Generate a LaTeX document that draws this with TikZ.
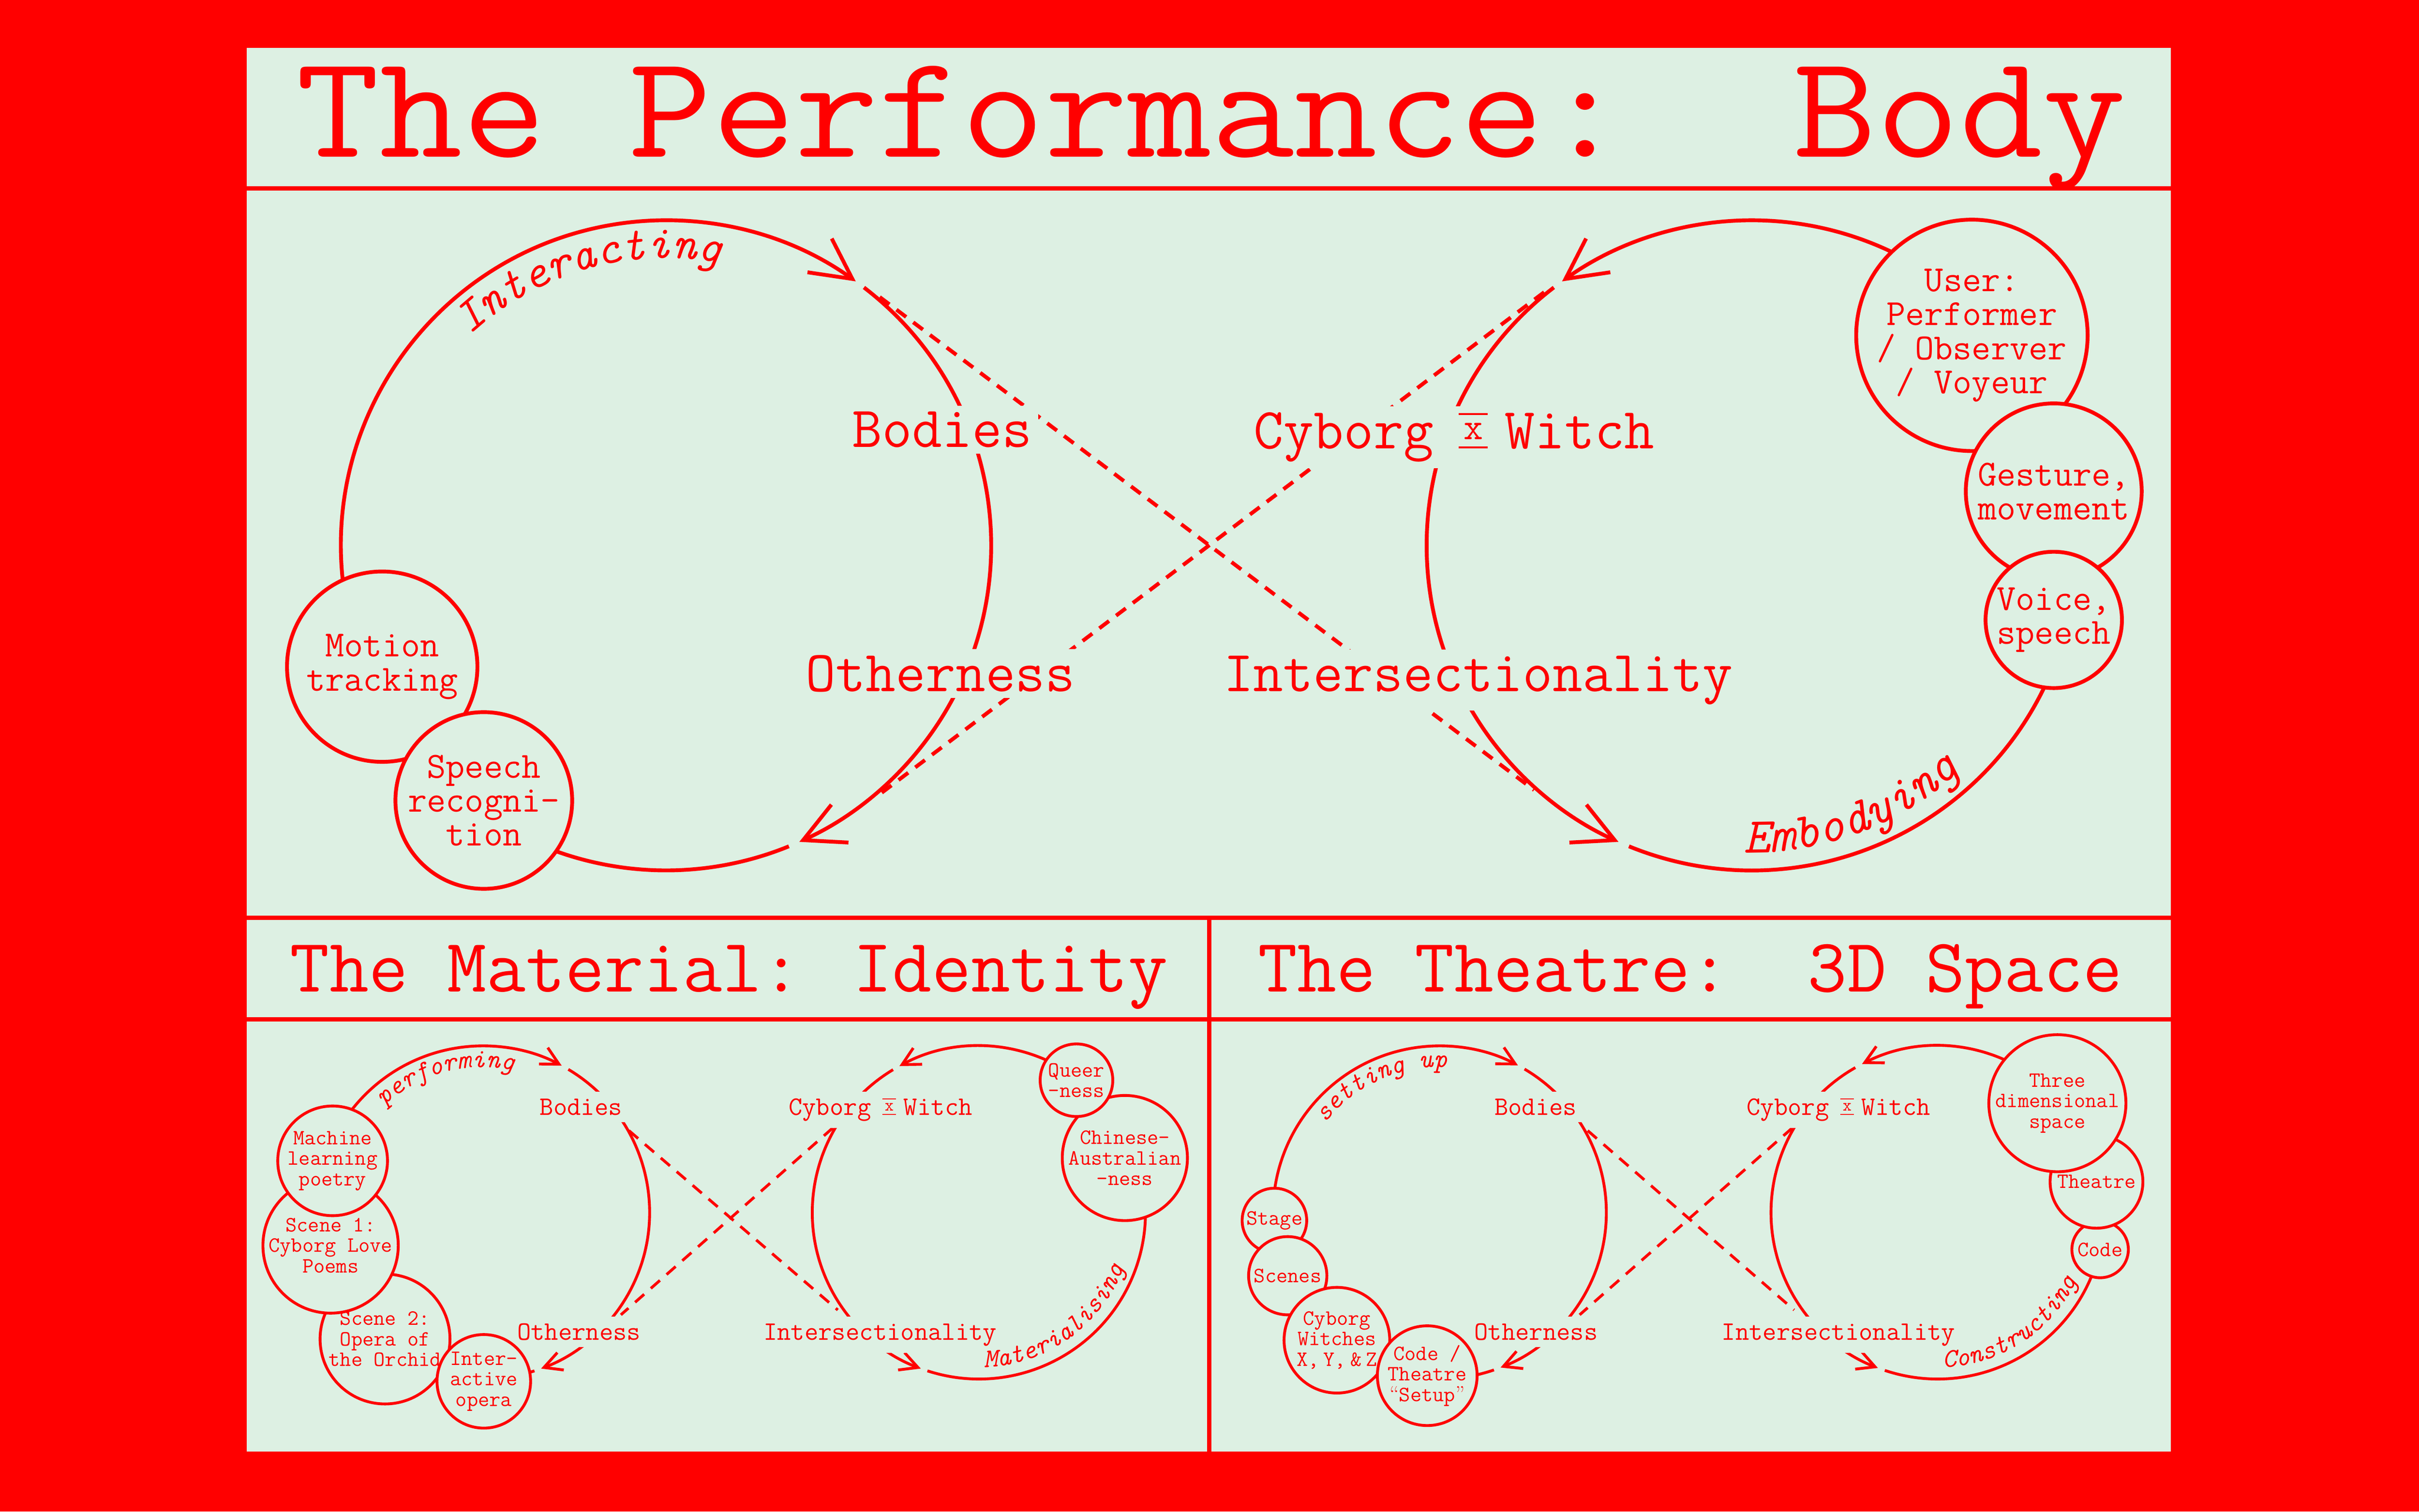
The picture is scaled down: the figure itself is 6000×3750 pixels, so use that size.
\documentclass[tikz,border=0pt]{standalone}
\usepackage{fontspec}
\usepackage{graphicx}
\usetikzlibrary{arrows.meta,decorations.text}
\definecolor{bg}{RGB}{221,240,227}
\definecolor{rd}{RGB}{255,0,0}
\newcommand{\tf}[2]{\fontsize{#1}{#2}\selectfont\ttfamily}
\newcommand{\xsym}{\makebox[0.525em]{\makebox[0pt]{\rule{0.5em}{0.035em}}\makebox[0pt]{\rule[0.58em]{0.5em}{0.035em}}\makebox[0pt]{\raisebox{0.16em}{\scalebox{0.65}{x}}}}}
\newcommand{\itA}{\fontsize{33}{33}\selectfont\ttfamily\itshape}
\newcommand{\itE}{\fontsize{35.5}{35.5}\selectfont\ttfamily\itshape}
\newcommand{\itB}{\fontsize{18.8}{18.8}\selectfont\ttfamily\itshape}
\begin{document}
\begin{tikzpicture}[x=0.01cm,y=0.01cm,
  ttl/.style={anchor=base, text=rd, inner sep=0pt},
  lblA/.style={anchor=base, fill=bg, text=rd, inner sep=0.15cm, font=\tf{41}{41}},
  lblB/.style={anchor=base, fill=bg, text=rd, inner sep=0.17cm, font=\tf{18.8}{18.8}},
  cA/.style={circle, draw=rd, fill=bg, line width=2.7pt, align=center, inner sep=0pt, text=rd, font=\tf{26}{24}},
  cB/.style={circle, draw=rd, fill=bg, line width=2pt, align=center, inner sep=0pt, text=rd, font=\tf{15.4}{14.5}},
  loopA/.style={draw=rd, line width=2.7pt},
  loopB/.style={draw=rd, line width=2pt},
  tipA/.style={-{Straight Barb[length=1cm,width=1.03cm]}},
  tipB/.style={-{Straight Barb[length=0.44cm,width=0.46cm]}},
  dashA/.style={draw=rd, line width=2.7pt, dash pattern=on 0.3cm off 0.22cm},
  dashB/.style={draw=rd, line width=2pt, dash pattern=on 0.3cm off 0.22cm},
  divline/.style={draw=rd, line width=3pt},
]
\useasboundingbox (0,0) rectangle (6000,3750);
\fill[rd] (0,0) rectangle (6000,3750);
\fill[bg] (612,149) rectangle (5384,3631);
% dividers
\draw[divline] (612,3283) -- (5384,3283);
\draw[divline] (612,1473) -- (5384,1473);
\draw[divline] (612,1221) -- (5384,1221);
\draw[divline] (2999,1473) -- (2999,149);
% titles
\node[ttl, font=\tf{104}{104}] (t1) at (3004,3360) {\scalebox{1.095}[1]{The Performance:\ \ Body}};
\node[ttl, font=\tf{53.8}{53.8}] (t2) at (1808,1290) {The Material: Identity};
\node[ttl, font=\tf{53.8}{53.8}] (t3) at (4192,1290) {The Theatre:\ \ 3D Space};
% loop centres
\coordinate (TL) at (1652,2397);
\coordinate (TR) at (4345,2397);
\coordinate (BLL) at (1198,742);
\coordinate (BLR) at (2428,742);
\coordinate (BRL) at (3571,742);
\coordinate (BRR) at (4806,742);
% top loops
\draw[loopA,tipA] (TL) ++(190:8.06cm) arc[start angle=190,end angle=54.3,radius=8.06cm];
\draw[loopA,tipA] (TL) ++(52.5:8.06cm) arc[start angle=52.5,end angle=-65.8,radius=8.06cm];
\draw[loopA] (TL) ++(-67.8:8.06cm) arc[start angle=-67.8,end angle=-170,radius=8.06cm];
\draw[loopA,tipA] (TR) ++(30:8.06cm) arc[start angle=30,end angle=125.7,radius=8.06cm];
\draw[loopA,tipA] (TR) ++(127.5:8.06cm) arc[start angle=127.5,end angle=245.8,radius=8.06cm];
\draw[loopA] (TR) ++(247.8:8.06cm) arc[start angle=247.8,end angle=380,radius=8.06cm];
% bottom-left loops
\draw[loopB,tipB] (BLL) ++(185:4.13cm) arc[start angle=185,end angle=61.8,radius=4.13cm];
\draw[loopB,tipB] (BLL) ++(59.2:4.13cm) arc[start angle=59.2,end angle=-69.6,radius=4.13cm];
\draw[loopB] (BLL) ++(-72:4.13cm) arc[start angle=-72,end angle=-110,radius=4.13cm];
\draw[loopB,tipB] (BLR) ++(55:4.13cm) arc[start angle=55,end angle=118.5,radius=4.13cm];
\draw[loopB,tipB] (BLR) ++(121:4.13cm) arc[start angle=121,end angle=249.6,radius=4.13cm];
\draw[loopB] (BLR) ++(252:4.13cm) arc[start angle=252,end angle=375,radius=4.13cm];
% bottom-right loops
\draw[loopB,tipB] (BRL) ++(185:4.13cm) arc[start angle=185,end angle=62,radius=4.13cm];
\draw[loopB,tipB] (BRL) ++(59.4:4.13cm) arc[start angle=59.4,end angle=-68.6,radius=4.13cm];
\draw[loopB] (BRL) ++(-71:4.13cm) arc[start angle=-71,end angle=-110,radius=4.13cm];
\draw[loopB,tipB] (BRR) ++(40:4.13cm) arc[start angle=40,end angle=117,radius=4.13cm];
\draw[loopB,tipB] (BRR) ++(119.6:4.13cm) arc[start angle=119.6,end angle=249,radius=4.13cm];
\draw[loopB] (BRR) ++(251.5:4.13cm) arc[start angle=251.5,end angle=400,radius=4.13cm];
% dashed crossings
\coordinate (a1) at (2182,3013); \coordinate (a2) at (3805,1790);
\coordinate (a3) at (3830,3025); \coordinate (a4) at (2180,1778);
\draw[dashA] (a1) -- (a2);
\draw[dashA] (a3) -- (a4);
\coordinate (b1) at (1560,945); \coordinate (b2) at (2078,500);
\coordinate (b3) at (2066,952); \coordinate (b4) at (1540,488);
\draw[dashB] (b1) -- (b2);
\draw[dashB] (b3) -- (b4);
\coordinate (c1) at (3938,945); \coordinate (c2) at (4450,500);
\coordinate (c3) at (4446,952); \coordinate (c4) at (3918,488);
\draw[dashB] (c1) -- (c2);
\draw[dashB] (c3) -- (c4);
% main labels
\node[lblA] (bodies) at (2337,2640) {Bodies};
\node[lblA] (other) at (2333,2035) {Otherness};
\node[lblA] (cyborg) at (3607,2637) {Cyborg\hspace{0.42em}\xsym\hspace{0.28em}Witch};
\node[lblA] (inter) at (3666,2035) {Intersectionality};
\node[lblB] (bodiesL) at (1441,984) {Bodies};
\node[lblB] (otherL) at (1436,426) {Otherness};
\node[lblB] (cyborgL) at (2184,984) {Cyborg\hspace{0.42em}\xsym\hspace{0.28em}Witch};
\node[lblB] (interL) at (2183,426) {Intersectionality};
\node[lblB] (bodiesR) at (3809,984) {Bodies};
\node[lblB] (otherR) at (3810,426) {Otherness};
\node[lblB] (cyborgR) at (4560,984) {Cyborg\hspace{0.42em}\xsym\hspace{0.28em}Witch};
\node[lblB] (interR) at (4560,426) {Intersectionality};
% arc labels
\path[decorate,decoration={text along path,text color=rd,text={|\itA|Interacting}}]
  (TL) ++(133:7.12cm) arc[start angle=133,end angle=65,radius=7.12cm];
\path[decorate,decoration={text along path,text color=rd,text={|\itE|Embodying}}]
  (TR) ++(268.5:7.62cm) arc[start angle=268.5,end angle=330,radius=7.62cm];
\path[decorate,decoration={text along path,text color=rd,text={|\itB|performing}}]
  (BLL) ++(133:3.6cm) arc[start angle=133,end angle=60,radius=3.6cm];
\path[decorate,decoration={text along path,text color=rd,text={|\itB|Materialising}}]
  (BLR) ++(272:3.85cm) arc[start angle=272,end angle=355,radius=3.85cm];
\path[decorate,decoration={text along path,text color=rd,text={|\itB|setting up}}]
  (BRL) ++(142:3.6cm) arc[start angle=142,end angle=70,radius=3.6cm];
\path[decorate,decoration={text along path,text color=rd,text={|\itB|Constructing}}]
  (BRR) ++(272:3.85cm) arc[start angle=272,end angle=350,radius=3.85cm];
% circles top
\node[cA, minimum size=4.72cm] (motion) at (948,2096) {Motion\\tracking};
\node[cA, minimum size=4.38cm] (speech) at (1200,1764) {Speech\\recogni-\\tion};
\node[cA, minimum size=5.38cm] (user) at (4891,2918) {User:\\Performer\\/ Observer\\/ Voyeur};
\node[cA, minimum size=4.36cm] (gesture) at (5094,2531) {Gesture,\\movement};
\node[cA, minimum size=3.38cm] (voice) at (5094,2212) {Voice,\\speech};
% circles bottom-left
\node[cB, minimum size=3.22cm] (scene2) at (955,428) {Scene 2:\\Opera of\\the Orchid};
\node[cB, minimum size=2.32cm] (interactive) at (1200,323) {Inter-\\active\\opera};
\node[cB, minimum size=3.24cm] (scene1) at (820,660) {Scene 1:\\Cyborg Love\\Poems};
\node[cB, minimum size=2.72cm] (ml) at (825,870) {Machine\\learning\\poetry};
\node[cB, minimum size=3.10cm] (chinese) at (2790,877) {Chinese-\\Australian\\-ness};
\node[cB, minimum size=1.80cm] (queer) at (2670,1070) {Queer\\-ness};
% circles bottom-right
\node[cB, minimum size=1.60cm] (stage) at (3161,722) {Stage};
\node[cB, minimum size=1.94cm] (scenes) at (3194,585) {Scenes};
\node[cB, minimum size=2.62cm] (witches) at (3316,425) {Cyborg\\Witches\\X,\hspace{0.2em}Y,\hspace{0.2em}\&\hspace{0.2em}Z};
\node[cB, minimum size=2.38cm] (setup) at (3540,337) {Code /\\Theatre\\{\rmfamily\textquotedblleft}Setup{\rmfamily\textquotedblright}};
\node[cB, minimum size=1.40cm] (code) at (5209,650) {Code};
\node[cB, minimum size=2.30cm] (theatre) at (5200,818) {Theatre};
\node[cB, minimum size=3.26cm] (three) at (5103,1013) {Three\\dimensional\\space};
\end{tikzpicture}
\end{document}
